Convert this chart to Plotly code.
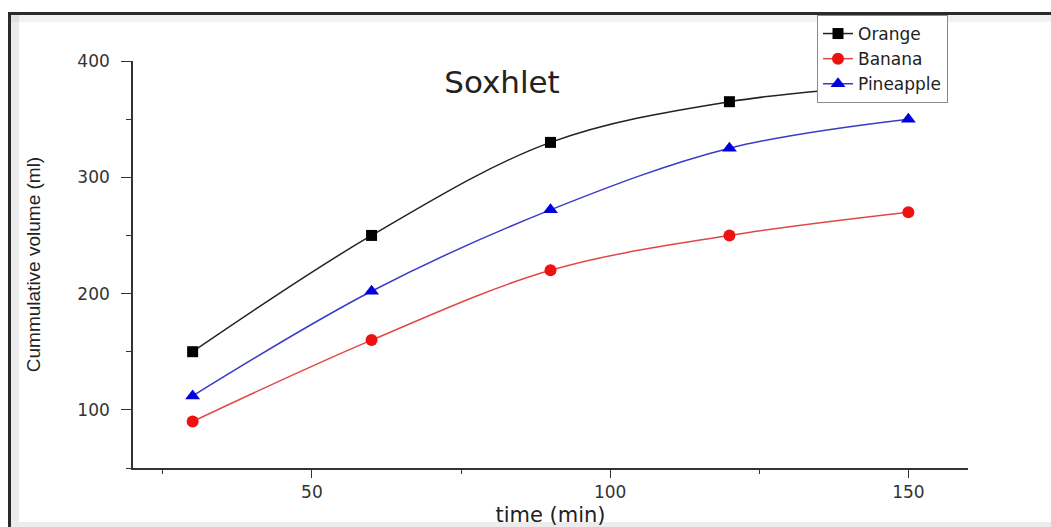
import plotly.graph_objects as go

# ---- data ----
time_min = [30, 60, 90, 120, 150]
orange = [150, 250, 330, 365, 380]
banana = [90, 160, 220, 250, 270]
pineapple = [112, 202, 272, 325, 350]

x_ticks = [50, 100, 150]
y_ticks = [100, 200, 300, 400]

W, H = 1051, 527
L, R, T, B = 133, 968, 61, 468  # plot area in pixels


def px(xp):
    return (xp - L) / (R - L)


def py(yp):
    return (B - yp) / (B - T)


fig = go.Figure()

fig.add_trace(go.Scatter(
    x=time_min, y=orange, name="Orange", mode="lines+markers",
    line=dict(color="#222222", width=1.5, shape="spline", smoothing=1.0),
    marker=dict(symbol="square", size=11, color="#000000"),
))
fig.add_trace(go.Scatter(
    x=time_min, y=banana, name="Banana", mode="lines+markers",
    line=dict(color="#e04848", width=1.5, shape="spline", smoothing=1.0),
    marker=dict(symbol="circle", size=12, color="#ee1111"),
))
fig.add_trace(go.Scatter(
    x=time_min, y=pineapple, name="Pineapple", mode="lines+markers",
    line=dict(color="#3a3ac8", width=1.5, shape="spline", smoothing=1.0),
    marker=dict(symbol="triangle-up", size=13, color="#0000dd"),
))

font = "DejaVu Sans, Arial, sans-serif"

# frame around the picture (screenshot border)
shapes = [
    dict(type="rect", xref="paper", yref="paper",
         x0=px(11), x1=px(W + 5), y0=py(22), y1=py(15),
         fillcolor="rgba(120,120,120,0.10)", line=dict(width=0), layer="below"),
    dict(type="rect", xref="paper", yref="paper",
         x0=px(11), x1=px(19), y0=py(H + 5), y1=py(15),
         fillcolor="rgba(120,120,120,0.14)", line=dict(width=0), layer="below"),
    dict(type="rect", xref="paper", yref="paper",
         x0=px(8), x1=px(W + 5), y0=py(15), y1=py(12),
         fillcolor="#2a2a2a", line=dict(width=0)),
    dict(type="rect", xref="paper", yref="paper",
         x0=px(8), x1=px(11), y0=py(H + 5), y1=py(12),
         fillcolor="#2a2a2a", line=dict(width=0)),
    dict(type="rect", xref="paper", yref="paper",
         x0=px(11), x1=px(W + 5), y0=py(H + 5), y1=py(522),
         fillcolor="#ececec", line=dict(width=0)),
]

fig.update_layout(
    width=W, height=H,
    margin=dict(l=L, r=W - R, t=T, b=H - B, pad=0, autoexpand=False),
    paper_bgcolor="white", plot_bgcolor="white",
    showlegend=True,
    legend=dict(
        x=px(817), y=py(15), xanchor="left", yanchor="top",
        bgcolor="white", bordercolor="#8a8a8a", borderwidth=1,
        font=dict(family=font, size=17, color="#222222"),
        tracegroupgap=0,
    ),
    title=dict(text="Soxhlet", x=px(502), xanchor="center", xref="paper",
               y=1 - 82 / H, yanchor="middle", automargin=False,
               font=dict(family=font, size=31, color="#222222")),
    shapes=shapes,
    xaxis=dict(
        range=[20, 160], tickmode="array", tickvals=x_ticks, automargin=False,
        ticks="outside", ticklen=8, tickwidth=1.3, tickcolor="#333333",
        minor=dict(dtick=25, tick0=0, ticks="outside", ticklen=4, tickcolor="#333333"),
        showline=True, linecolor="#333333", linewidth=1.6, mirror=False,
        showgrid=False, zeroline=False,
        tickfont=dict(family=font, size=17, color="#333333"),
        title=dict(text="time (min)", standoff=22,
                   font=dict(family=font, size=21, color="#222222")),
    ),
    yaxis=dict(
        range=[50, 400], tickmode="array", tickvals=y_ticks, automargin=False,
        ticks="outside", ticklen=10, tickwidth=1.3, tickcolor="#333333",
        minor=dict(dtick=50, tick0=0, ticks="outside", ticklen=5, tickcolor="#333333"),
        showline=True, linecolor="#333333", linewidth=1.6, mirror=False,
        showgrid=False, zeroline=False, ticklabelstandoff=8,
        tickfont=dict(family=font, size=17, color="#333333"),
        title=dict(text="Cummulative volume (ml)", standoff=32,
                   font=dict(family="Liberation Sans Narrow, Arial Narrow, Arial, sans-serif",
                             size=19, color="#222222")),
    ),
)

fig.write_html("out.html")
